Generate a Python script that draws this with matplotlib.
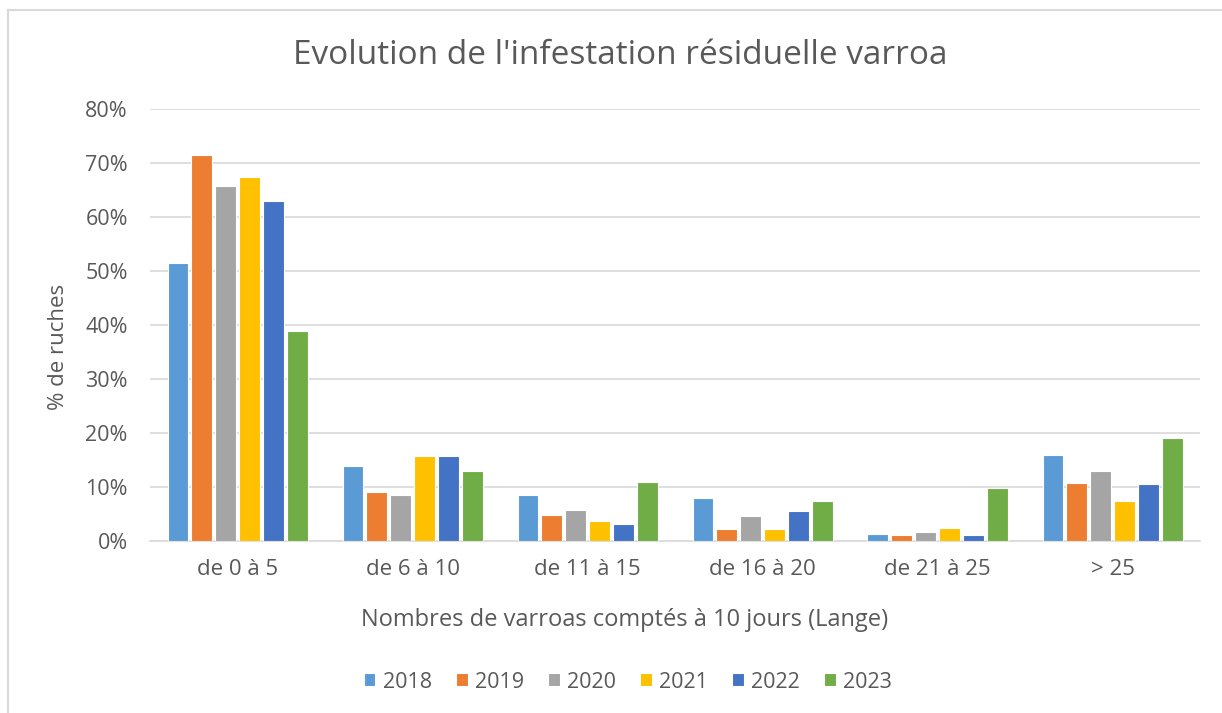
import numpy as np
from matplotlib import pyplot as plt
from matplotlib.lines import Line2D

categories = ['de 0 à 5', 'de 6 à 10', 'de 11 à 15', 'de 16 à 20', 'de 21 à 25', '> 25']
years = ['2018', '2019', '2020', '2021', '2022', '2023']
v2018 = [51.4, 13.8, 8.6, 7.9, 1.3, 16.0]
v2019 = [71.4, 9.1, 4.9, 2.2, 1.05, 10.7]
v2020 = [65.7, 8.6, 5.7, 4.6, 1.6, 12.9]
v2021 = [67.5, 15.7, 3.7, 2.2, 2.5, 7.4]
v2022 = [63.0, 15.7, 3.1, 5.5, 1.2, 10.6]
v2023 = [38.8, 12.9, 10.9, 7.4, 9.9, 19.0]
series = [v2018, v2019, v2020, v2021, v2022, v2023]
colors = ['#5B9BD5', '#ED7D31', '#A5A5A5', '#FFC000', '#4472C4', '#70AD47']

plt.rcParams['font.family'] = ['Open Sans', 'DejaVu Sans']
txt = '#595959'
W, H = 1222, 713

fig = plt.figure(figsize=(W / 100, H / 100), dpi=100)
ax = fig.add_axes([150 / W, 1 - 541 / H, 1050 / W, 432 / H])

x = np.arange(len(categories))
pitch = 0.137
width = 0.115
for i, (vals, c, yr) in enumerate(zip(series, colors, years)):
    ax.bar(x + (i - 2.5) * pitch, vals, width, color=c, edgecolor='white', linewidth=0.8, label=yr, zorder=3)

ax.set_xlim(-0.5, len(categories) - 0.5)
ax.set_ylim(0, 80)
ax.set_yticks(range(0, 81, 10))
ax.set_yticklabels([f'{v}%' for v in range(0, 81, 10)], color=txt, fontsize=15.5)
ax.set_xticks(x)
ax.set_xticklabels(categories, color=txt, fontsize=16)
ax.tick_params(axis='y', length=0, pad=16)
ax.tick_params(axis='x', length=0, pad=13)
ax.grid(axis='y', color='#D9D9D9', linewidth=1.2, zorder=0)
for s in ['top', 'right', 'left']:
    ax.spines[s].set_visible(False)
ax.spines['bottom'].set_color('#D9D9D9')
ax.spines['bottom'].set_linewidth(1.2)

# axis titles and chart title, centred like the spreadsheet layout
fig.text(58 / W, 1 - 347 / H, '% de ruches', color=txt, fontsize=16, rotation=90,
         ha='center', va='center')
fig.text(625 / W, 1 - 620 / H, 'Nombres de varroas comptés à 10 jours (Lange)', color=txt,
         fontsize=17, ha='center', va='center')
fig.text(620 / W, 1 - 56 / H, "Evolution de l'infestation résiduelle varroa", color=txt,
         fontsize=24, ha='center', va='center')

leg = ax.legend(loc='center', bbox_to_anchor=(0.455, (541 - 682) / 432), ncol=6, frameon=False,
                fontsize=15.5, handlelength=0.55, handleheight=0.55, handletextpad=0.35, columnspacing=1.1)
for t in leg.get_texts():
    t.set_color(txt)

# chart frame (left and top edges visible)
fig.add_artist(Line2D([8 / W, 8 / W], [0, 1 - 10 / H], color='#D9D9D9', linewidth=1.5,
                      transform=fig.transFigure))
fig.add_artist(Line2D([8 / W, 1], [1 - 10 / H, 1 - 10 / H], color='#D9D9D9', linewidth=1.5,
                      transform=fig.transFigure))

fig.savefig('out.png', dpi=100)
